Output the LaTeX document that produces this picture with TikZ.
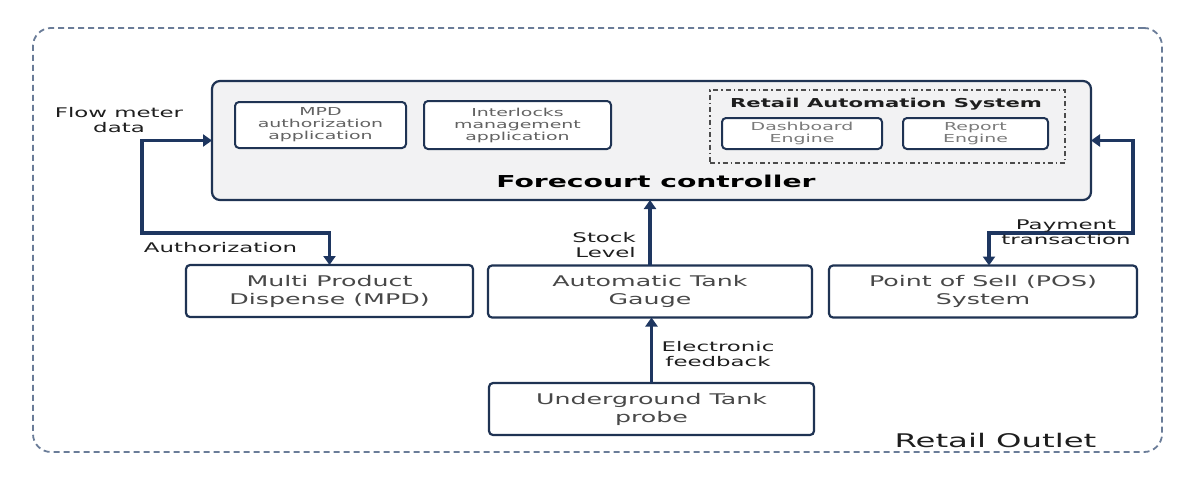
\documentclass[tikz,border=0pt]{standalone}
\usepackage{fontspec}
\setmainfont{DejaVu Sans}[FakeStretch=1.72]
\usetikzlibrary{arrows.meta,positioning}
\definecolor{navy}{HTML}{1F3353}
\definecolor{linkblue}{HTML}{1E3660}
\definecolor{outline}{HTML}{6A7C98}
\definecolor{ctrlfill}{HTML}{F2F2F3}
\definecolor{boxtext}{HTML}{484848}
\definecolor{apptext}{HTML}{626262}
\definecolor{lbltext}{HTML}{1E1E1E}

\begin{document}
\begin{tikzpicture}[x=1pt, y=-1pt,
  >={Triangle[length=9pt,width=12pt]},
  unitbox/.style={draw=navy, line width=2.2pt, rounded corners=4pt, fill=white,
    inner sep=0pt, outer sep=0pt, align=center, text=boxtext,
    font=\fontsize{14.7}{18}\selectfont},
  appbox/.style={unitbox, line width=2pt, text=apptext,
    font=\fontsize{11}{12}\selectfont},
  link/.style={draw=linkblue, line width=3.8pt},
  lbl/.style={inner sep=0pt, align=center, text=lbltext,
    font=\fontsize{13.3}{15}\selectfont}]
  \useasboundingbox (0,0) rectangle (1185,490);

  % Retail outlet frame
  \node[draw=outline, line width=1.8pt, dash pattern=on 6pt off 4pt,
    rounded corners=18pt, minimum width=1129pt, minimum height=424pt,
    inner sep=0pt] (outlet) at (597.5,240) {};
  \node[anchor=base, inner sep=0pt, text=lbltext,
    font=\fontsize{18.8}{20}\selectfont] (outletname) at (995.5,447) {Retail Outlet};

  % Forecourt controller with its applications
  \node[unitbox, fill=ctrlfill, rounded corners=8pt, minimum width=879pt,
    minimum height=119pt] (fcc) at (651.5,140.5) {};
  \node[anchor=base, inner sep=0pt, text=black,
    font=\bfseries\fontsize{16.4}{18}\selectfont] (fcctitle) at (656,187) {Forecourt controller};
  \node[appbox, minimum width=171pt, minimum height=46pt] (mpdapp) at (320.5,125)
    {MPD\\authorization\\application};
  \node[appbox, minimum width=187pt, minimum height=48pt] (lockapp) at (517.5,125)
    {Interlocks\\management\\application};

  % Retail automation system
  \node[draw=black!70, line width=1.4pt, dash pattern=on 5pt off 3pt on 1.5pt off 3pt,
    minimum width=355pt, minimum height=73pt, inner sep=0pt] (ras) at (887.5,126.5) {};
  \node[anchor=base, inner sep=0pt, text=lbltext,
    font=\bfseries\fontsize{12.3}{14}\selectfont] (rastitle) at (886,107) {Retail Automation System};
  \node[appbox, text=apptext!85, minimum width=160pt, minimum height=31pt] (dash) at (802,133.5)
    {Dashboard\\Engine};
  \node[appbox, text=apptext!85, minimum width=145pt, minimum height=31pt] (report) at (975.5,133.5)
    {Report\\Engine};

  % Field devices
  \foreach \name/\x/\y/\w/\txt in {mpd/329.5/291/287/{Multi Product\\Dispense (MPD)},
      atg/650/291.5/324/{Automatic Tank\\Gauge},
      pos/983/291.5/308/{Point of Sell (POS)\\System},
      utp/651.5/409/325/{Underground Tank\\probe}} {
    \node[unitbox, minimum width=\w pt, minimum height=52pt] (\name) at (\x,\y) {\txt};
  }

  % Connectors
  \coordinate (flowbend) at (142,233);
  \coordinate (paybend) at (1133,233);
  \draw[link, <->] (fcc.west) -| (flowbend) -| (mpd.north);
  \draw[link, <->] (fcc.east) -| (paybend) -| ([xshift=6pt]pos.north);
  \draw[link, ->] (atg.north) -- (atg.north |- fcc.south);
  \draw[link, ->] (utp.north) -- (utp.north |- atg.south);

  % Connector labels
  \node[lbl] (flowlbl) at (119,120.5) {Flow meter\\data};
  \node[lbl, anchor=base] (authlbl) at (220.5,252) {Authorization};
  \node[lbl, align=right, anchor=east] (stocklbl) at (636,245.5) {Stock\\Level};
  \node[lbl] (feedlbl) at (718,354.5) {Electronic\\feedback};
  \node[lbl] (paylbl) at (1066,232) {Payment\\transaction};
\end{tikzpicture}
\end{document}
